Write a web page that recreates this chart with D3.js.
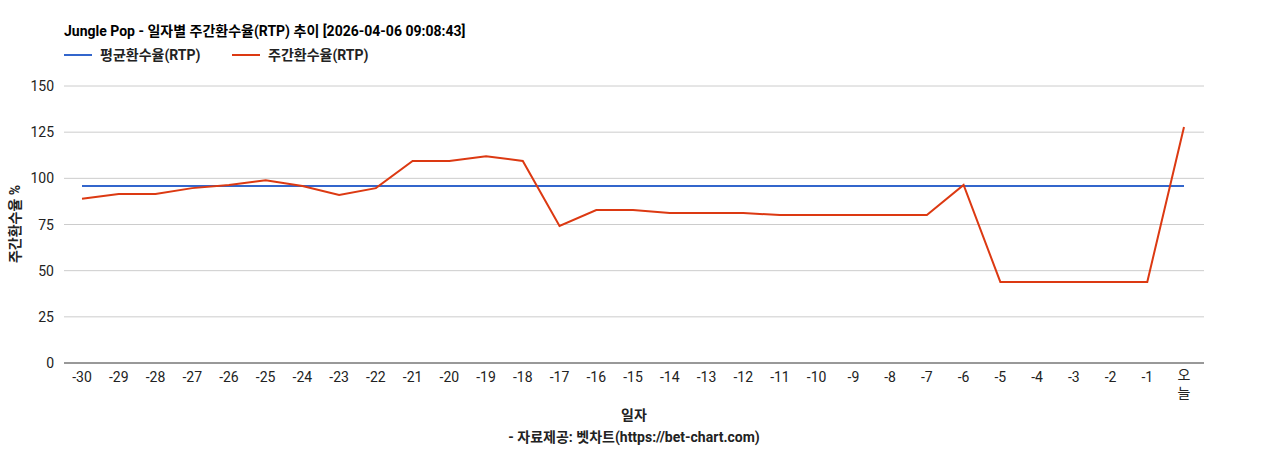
<!DOCTYPE html><html><head><meta charset="utf-8"><script src="https://cdn.jsdelivr.net/npm/d3@7"></script>
<style>body{margin:0;background:#fff}text{font-family:Roboto,"Noto Sans CJK KR",sans-serif}</style></head><body><svg id="c" width="1268" height="450"></svg><script>
const categories=["-30","-29","-28","-27","-26","-25","-24","-23","-22","-21","-20","-19","-18","-17","-16","-15","-14","-13","-12","-11","-10","-9","-8","-7","-6","-5","-4","-3","-2","-1","오늘"];
const weekly=[89,91.5,91.5,94.7,96.4,99,95.8,91,94.7,109.4,109.4,112,109.4,74.2,82.8,82.8,81.2,81.2,81.2,80.1,80.1,80.1,80.1,80.1,96.4,43.9,43.9,43.9,43.9,43.9,127.8];
const avgVal=95.8;
const yTicks=[0,25,50,75,100,125,150];
const svg=d3.select("#c");
const L=64,R=1204,T=86,B=363;
const x=d3.scalePoint().domain(categories).range([82,1184]);
const y=d3.scaleLinear().domain([0,150]).range([B,T]);
svg.append("text").attr("x",64).attr("y",36).attr("font-size",14).attr("font-weight","bold").text("Jungle Pop - 일자별 주간환수율(RTP) 추이 [2026-04-06 09:08:43]");
const lg=[["평균환수율(RTP)","#3366cc",64],["주간환수율(RTP)","#dc3912",232]];
lg.forEach(([t,c,x0])=>{svg.append("line").attr("x1",x0).attr("x2",x0+28).attr("y1",55).attr("y2",55).attr("stroke",c).attr("stroke-width",2);
svg.append("text").attr("x",x0+36).attr("y",60).attr("font-size",14).attr("font-weight","bold").attr("fill","#222").text(t);});
yTicks.forEach(v=>{svg.append("line").attr("x1",L).attr("x2",R).attr("y1",y(v)).attr("y2",y(v)).attr("stroke",v===0?"#333":"#ccc");
svg.append("text").attr("x",54).attr("y",y(v)+5).attr("text-anchor","end").attr("font-size",14).attr("fill","#222").text(v);});
categories.forEach(c=>{if(c==="오늘"){["오","늘"].forEach((ch,i)=>svg.append("text").attr("x",x(c)).attr("y",380+i*18).attr("text-anchor","middle").attr("font-size",14).attr("fill","#222").text(ch));}
else svg.append("text").attr("x",x(c)).attr("y",382).attr("text-anchor","middle").attr("font-size",14).attr("fill","#222").text(c);});
svg.append("line").attr("x1",x(categories[0])).attr("x2",x(categories[30])).attr("y1",y(avgVal)).attr("y2",y(avgVal)).attr("stroke","#3366cc").attr("stroke-width",2);
svg.append("path").datum(weekly).attr("fill","none").attr("stroke","#dc3912").attr("stroke-width",2)
.attr("d",d3.line().x((d,i)=>x(categories[i])).y(d=>y(d)));
svg.append("text").attr("x",634).attr("y",420).attr("text-anchor","middle").attr("font-size",14).attr("font-weight","bold").attr("fill","#222").text("일자");
svg.append("text").attr("x",634).attr("y",442).attr("text-anchor","middle").attr("font-size",14).attr("font-weight","bold").attr("fill","#222").text("- 자료제공: 벳차트(https://bet-chart.com)");
svg.append("text").attr("transform","translate(20,224) rotate(-90)").attr("text-anchor","middle").attr("font-size",14).attr("font-weight","bold").attr("fill","#222").text("주간환수율 %");
</script></body></html>
